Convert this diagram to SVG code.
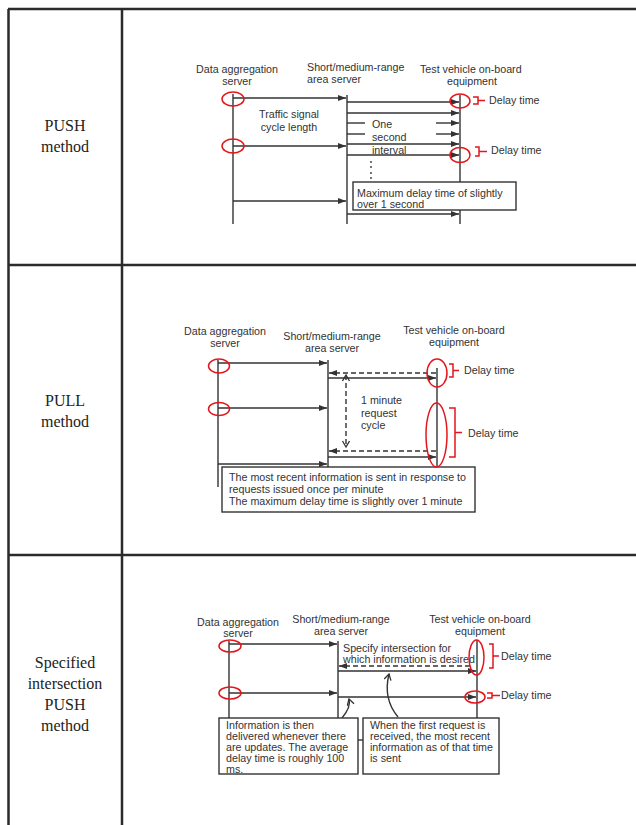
<svg xmlns="http://www.w3.org/2000/svg" width="636" height="825" viewBox="0 0 636 825">
<defs>
<marker id="ah" markerUnits="userSpaceOnUse" markerWidth="8" markerHeight="6" refX="8" refY="3" orient="auto"><path d="M0,0 L8,3 L0,6 z" fill="#333"/></marker>
<marker id="oh" markerUnits="userSpaceOnUse" markerWidth="9" markerHeight="9" refX="7" refY="4" orient="auto-start-reverse"><path d="M1,0.5 L7,4 L1,7.5" fill="none" stroke="#333" stroke-width="1.3"/></marker>
</defs>
<style>
.tb{stroke:#2b2b2b;stroke-width:2.5;fill:none}
.ln{stroke:#333;stroke-width:1.4;fill:none}
.ar{stroke:#333;stroke-width:1.4;fill:none;marker-end:url(#ah)}
.da{stroke:#333;stroke-width:1.4;fill:none;stroke-dasharray:5,3;marker-end:url(#ah)}
.rd{stroke:#e3161c;stroke-width:1.5;fill:none}
.bx{stroke:#333;stroke-width:1.4;fill:#fff}
.t{font-family:'Liberation Sans',Arial,sans-serif;font-size:10.7px;fill:#333}
.m{text-anchor:middle}
.lb{font-family:'Liberation Serif','Times New Roman',serif;font-size:16px;fill:#222;text-anchor:middle}
</style>
<rect width="636" height="825" fill="#fff"/>
<g id="table">
<path class="tb" d="M8,9 H636 M8.5,9 V825 M122,9 V825 M8,265 H636 M8,555 H636"/>
<text class="lb" x="65" y="131">PUSH</text>
<text class="lb" x="65" y="152">method</text>
<text class="lb" x="65" y="406">PULL</text>
<text class="lb" x="65" y="427">method</text>
<text class="lb" x="65" y="668">Specified</text>
<text class="lb" x="65" y="689">intersection</text>
<text class="lb" x="65" y="710">PUSH</text>
<text class="lb" x="65" y="731">method</text>
</g>

<!-- PUSH panel -->
<g id="push-agg">
<text class="t m" x="237" y="73">Data aggregation</text>
<text class="t m" x="237" y="85">server</text>
<line class="ln" x1="233" y1="94" x2="233" y2="224"/>
</g>
<g id="push-short">
<text class="t" x="307" y="71">Short/medium-range</text>
<text class="t" x="307" y="83">area server</text>
<line class="ln" x1="347" y1="95" x2="347" y2="224"/>
</g>
<g id="push-test">
<text class="t" x="420" y="73">Test vehicle on-board</text>
<text class="t m" x="472" y="85">equipment</text>
<line class="ln" x1="460" y1="95" x2="460" y2="224"/>
</g>
<g id="push-connectors">
<line class="ar" x1="233" y1="98" x2="346" y2="98"/>
<line class="ar" x1="233" y1="146" x2="346" y2="146"/>
<line class="ar" x1="233" y1="201" x2="346" y2="201"/>
<line class="ar" x1="347" y1="102" x2="459" y2="102"/>
<line class="ar" x1="347" y1="113" x2="459" y2="113"/>
<line class="ln" x1="347" y1="123" x2="365" y2="123"/>
<line class="ar" x1="436" y1="123" x2="459" y2="123"/>
<line class="ln" x1="347" y1="134" x2="365" y2="134"/>
<line class="ar" x1="436" y1="134" x2="459" y2="134"/>
<line class="ar" x1="347" y1="144" x2="459" y2="144"/>
<line class="ar" x1="347" y1="155" x2="459" y2="155"/>
<line class="ar" x1="347" y1="214" x2="459" y2="214"/>
</g>
<g id="push-labels">
<text class="t m" x="289" y="118">Traffic signal</text>
<text class="t m" x="289" y="131">cycle length</text>
<text class="t" x="372" y="128">One</text>
<text class="t" x="372" y="141">second</text>
<text class="t" x="372" y="154">interval</text>
<g fill="#333"><circle cx="371" cy="162" r="0.9"/><circle cx="371" cy="167" r="0.9"/><circle cx="371" cy="173" r="0.9"/><circle cx="371" cy="178" r="0.9"/><circle cx="371" cy="183" r="0.9"/></g>
</g>
<g id="push-box">
<rect class="bx" x="353" y="182" width="163" height="28"/>
<text class="t" x="357" y="197">Maximum delay time of slightly</text>
<text class="t" x="357" y="208">over 1 second</text>
</g>
<g id="push-delay">
<ellipse class="rd" cx="233" cy="99" rx="11" ry="7"/>
<ellipse class="rd" cx="233" cy="146" rx="11" ry="7"/>
<ellipse class="rd" cx="460" cy="101" rx="10" ry="7"/>
<ellipse class="rd" cx="460" cy="155" rx="10" ry="7.5"/>
<path class="rd" d="M473,97 H478 V104 H473 M478,100.5 H485"/>
<path class="rd" d="M475,147 H479 V156 H475 M479,151.5 H487"/>
<text class="t" x="489" y="104">Delay time</text>
<text class="t" x="491" y="154">Delay time</text>
</g>

<!-- PULL panel -->
<g id="pull-agg">
<text class="t m" x="225" y="335">Data aggregation</text>
<text class="t m" x="225" y="347">server</text>
<line class="ln" x1="218" y1="360" x2="218" y2="487"/>
</g>
<g id="pull-short">
<text class="t m" x="332" y="340">Short/medium-range</text>
<text class="t m" x="332" y="352">area server</text>
<line class="ln" x1="328" y1="360" x2="328" y2="467"/>
</g>
<g id="pull-test">
<text class="t m" x="454" y="334">Test vehicle on-board</text>
<text class="t m" x="454" y="346">equipment</text>
<line class="ln" x1="437" y1="368" x2="437" y2="466"/>
</g>
<g id="pull-connectors">
<line class="ar" x1="218" y1="363" x2="327" y2="363"/>
<line class="ar" x1="218" y1="408" x2="327" y2="408"/>
<line class="ar" x1="218" y1="464" x2="327" y2="464"/>
<line class="da" x1="436" y1="373" x2="329" y2="373"/>
<line class="ar" x1="328" y1="378" x2="436" y2="378"/>
<line class="da" x1="436" y1="451" x2="329" y2="451"/>
<line class="ar" x1="328" y1="457" x2="436" y2="457"/>
<line class="ln" x1="346" y1="375" x2="346" y2="447" stroke-dasharray="5,3" marker-start="url(#oh)" marker-end="url(#oh)"/>
</g>
<g id="pull-labels">
<text class="t" x="361" y="404">1 minute</text>
<text class="t" x="361" y="417">request</text>
<text class="t" x="361" y="429">cycle</text>
</g>
<g id="pull-box">
<rect class="bx" x="222" y="467" width="253" height="45"/>
<text class="t" x="229" y="481">The most recent information is sent in response to</text>
<text class="t" x="229" y="493">requests issued once per minute</text>
<text class="t" x="229" y="505">The maximum delay time is slightly over 1 minute</text>
</g>
<g id="pull-delay">
<ellipse class="rd" cx="219" cy="366" rx="10.5" ry="7"/>
<ellipse class="rd" cx="219" cy="409" rx="10.5" ry="6.5"/>
<ellipse class="rd" cx="437" cy="373" rx="10" ry="14"/>
<ellipse class="rd" cx="436.5" cy="435" rx="10.5" ry="32"/>
<path class="rd" d="M449,364 H453 V377 H449 M453,370.5 H459"/>
<path class="rd" d="M449,408 H455 V457 H449 M455,432.5 H462"/>
<text class="t" x="464" y="374">Delay time</text>
<text class="t" x="468" y="437">Delay time</text>
</g>

<!-- Specified intersection PUSH panel -->
<g id="sip-agg">
<text class="t m" x="238" y="626">Data aggregation</text>
<text class="t m" x="238" y="637">server</text>
<line class="ln" x1="229" y1="641" x2="229" y2="718"/>
</g>
<g id="sip-short">
<text class="t m" x="341" y="623">Short/medium-range</text>
<text class="t m" x="341" y="635">area server</text>
<line class="ln" x1="338" y1="641" x2="338" y2="718"/>
</g>
<g id="sip-test">
<text class="t m" x="480" y="623">Test vehicle on-board</text>
<text class="t m" x="480" y="635">equipment</text>
<line class="ln" x1="477" y1="640" x2="477" y2="718"/>
</g>
<g id="sip-connectors">
<line class="ar" x1="229" y1="644" x2="337" y2="644"/>
<line class="ar" x1="229" y1="693" x2="337" y2="693"/>
<line class="da" x1="470" y1="666" x2="339" y2="666"/>
<line class="ar" x1="338" y1="671" x2="476" y2="671"/>
<line class="ar" x1="338" y1="697" x2="476" y2="697"/>
<path class="ln" d="M342,718 C347,712 351,706 349,699" marker-end="url(#oh)"/>
<path class="ln" d="M398,717 C388,705 385,690 389,674" marker-end="url(#oh)"/>
<line class="ln" x1="358" y1="740" x2="363" y2="740"/>
</g>
<g id="sip-labels">
<text class="t" x="343" y="652">Specify intersection for</text>
<text class="t" x="343" y="663">which information is desired</text>
</g>
<g id="sip-box1">
<rect class="bx" x="219" y="718" width="139" height="56"/>
<text class="t" x="226" y="729">Information is then</text>
<text class="t" x="226" y="740">delivered whenever there</text>
<text class="t" x="226" y="751">are updates. The average</text>
<text class="t" x="226" y="762">delay time is roughly 100</text>
<text class="t" x="226" y="773">ms.</text>
</g>
<g id="sip-box2">
<rect class="bx" x="363" y="718" width="136" height="56"/>
<text class="t" x="370" y="729">When the first request is</text>
<text class="t" x="370" y="740">received, the most recent</text>
<text class="t" x="370" y="751">information as of that time</text>
<text class="t" x="370" y="762">is sent</text>
</g>
<g id="sip-delay">
<ellipse class="rd" cx="230" cy="646" rx="11" ry="6"/>
<ellipse class="rd" cx="230" cy="693" rx="11" ry="6"/>
<ellipse class="rd" cx="476.5" cy="657.5" rx="7.5" ry="17.5"/>
<ellipse class="rd" cx="475" cy="697" rx="10" ry="6"/>
<path class="rd" d="M489,644 H493 V668 H489 M493,656 H499"/>
<path class="rd" d="M487,693 H492 V698 H487 M492,695.5 H500"/>
<text class="t" x="501" y="660">Delay time</text>
<text class="t" x="501" y="699">Delay time</text>
</g>
</svg>
